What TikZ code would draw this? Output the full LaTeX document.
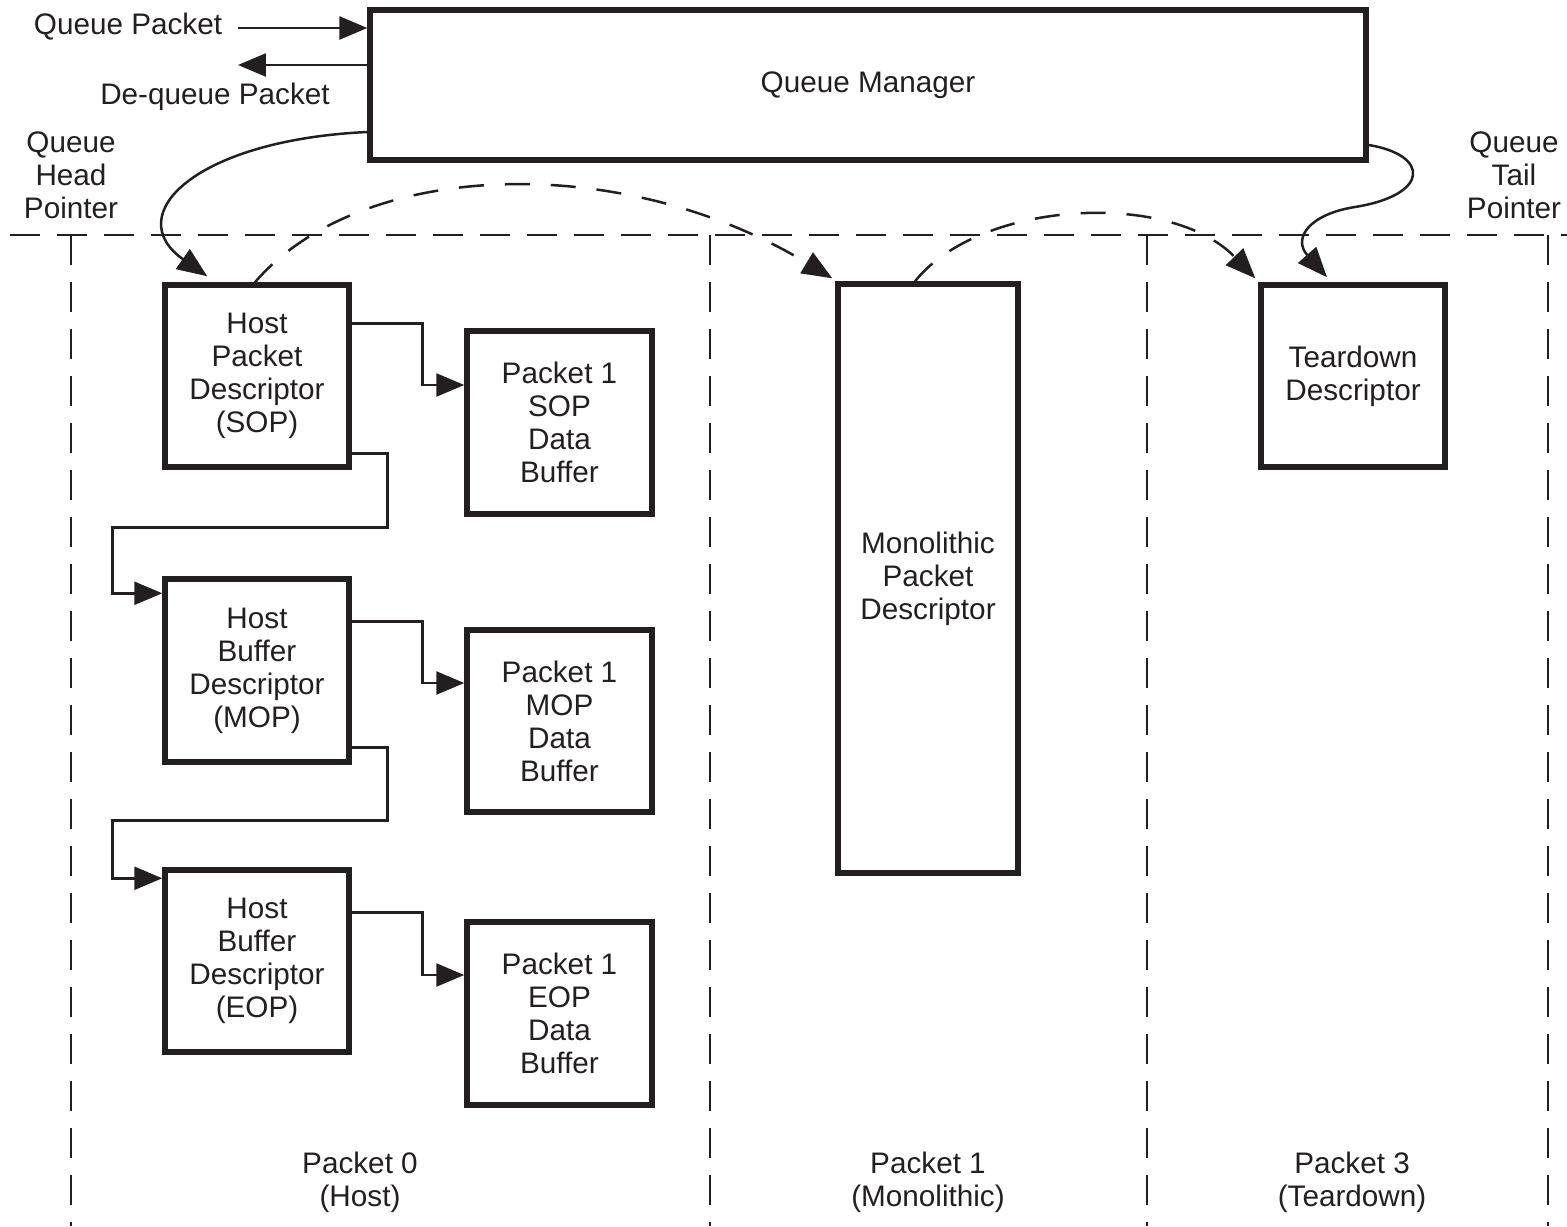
\documentclass[tikz,border=0pt]{standalone}
\usepackage{fontspec}
\setmainfont{Liberation Sans}
\usetikzlibrary{arrows.meta,calc}
\definecolor{ink}{HTML}{231F20}
\begin{document}
\begin{tikzpicture}[x=0.02cm,y=-0.02cm,
  txt/.style={font=\fontsize{16.9}{18.8}\selectfont, align=center, text=ink, inner sep=0pt},
  box/.style={draw=ink, line width=0.11cm, rectangle, txt},
  link/.style={draw=ink, line width=0.05cm, -{Triangle[length=0.56cm,width=0.46cm]}},
  curve/.style={draw=ink, line width=0.05cm, -{Triangle[length=0.6cm,width=0.48cm]}},
  dcurve/.style={curve, dash pattern=on 0.5cm off 0.42cm},
  divider/.style={draw=ink, line width=0.032cm, dash pattern=on 0.6cm off 0.34cm}]
\useasboundingbox (0,0) rectangle (1567,1226);

% queue region dividers
\draw[divider] (10,235) -- (1567,235);
\foreach \x in {71,710,1147,1548}
  \draw[divider] (\x,235) -- (\x,1226);

% queue manager
\node[box, minimum width=19.92cm, minimum height=3.0cm] (qm) at (868,85) {Queue Manager};

% side labels
\node[txt] (qpkt) at (128,27) {Queue Packet};
\node[txt] (dqpkt) at (215,97) {De-queue Packet};
\node[txt] (qhp) at (71,175) {Queue\\Head\\Pointer};
\node[txt] (qtp) at (1514,175) {Queue\\Tail\\Pointer};

% packet 0 (host)
\node[box, minimum width=3.68cm, minimum height=3.64cm] (sop) at (257,376) {Host\\Packet\\Descriptor\\(SOP)};
\node[box, minimum width=3.7cm, minimum height=3.66cm] (sb) at (559.5,422.5) {Packet 1\\SOP\\Data\\Buffer};
\node[box, minimum width=3.68cm, minimum height=3.66cm] (mop) at (257,670.5) {Host\\Buffer\\Descriptor\\(MOP)};
\node[box, minimum width=3.7cm, minimum height=3.64cm] (mb) at (559.5,721) {Packet 1\\MOP\\Data\\Buffer};
\node[box, minimum width=3.68cm, minimum height=3.64cm] (eop) at (257,961) {Host\\Buffer\\Descriptor\\(EOP)};
\node[box, minimum width=3.7cm, minimum height=3.66cm] (eb) at (559.5,1013.5) {Packet 1\\EOP\\Data\\Buffer};

% packet 1 (monolithic) and packet 3 (teardown)
\node[box, minimum width=3.6cm, minimum height=11.78cm] (mono) at (928,578.5) {Monolithic\\Packet\\Descriptor};
\node[box, minimum width=3.68cm, minimum height=3.64cm] (td) at (1353,376) {Teardown\\Descriptor};

% column captions
\node[txt] (lbl0) at (360,1182.5) {Packet 0\\(Host)};
\node[txt] (lbl1) at (928,1182.5) {Packet 1\\(Monolithic)};
\node[txt] (lbl3) at (1352,1182.5) {Packet 3\\(Teardown)};

% enqueue / dequeue
\coordinate (qin) at (238,28);
\coordinate (qout) at (238,65);
\draw[link] (qin) -- (qin -| qm.west);
\draw[link] (qout -| qm.west) -- (qout);

% descriptor to buffer links
\draw[link] ($(sop.north east)+(0,41)$) -- ++(71,0) |- ($(sb.west)+(0,-37.5)$);
\draw[link] ($(mop.north east)+(0,45)$) -- ++(71,0) |- ($(mb.west)+(0,-38)$);
\draw[link] ($(eop.north east)+(0,45)$) -- ++(71,0) |- ($(eb.west)+(0,-38.5)$);

% descriptor chain
\draw[link] ($(sop.south east)+(0,-16)$) -- ++(36,0) -- ++(0,74) -- ++(-275,0) |- ($(mop.north west)+(0,17)$);
\draw[link] ($(mop.south east)+(0,-17)$) -- ++(36,0) -- ++(0,73) -- ++(-275,0) |- ($(eop.north west)+(0,11)$);

% head and tail pointers
\draw[curve] ($(qm.west)+(0,47)$) .. controls (195,140) and (120,215) .. ($(sop.north west)+(45,-6)$);
\draw[curve] ($(qm.east)+(0,60)$) .. controls (1430,155) and (1430,195) .. (1355,207)
  .. controls (1310,214) and (1292,238) .. ($(td.north)+(-26,-5)$);

% next-packet links
\draw[dcurve] ($(sop.north)+(-2,0)$) .. controls (360,160) and (620,150) .. ($(mono.north west)+(-3,-3)$);
\draw[dcurve] ($(mono.north)+(-13,0)$) .. controls (980,200) and (1170,190) .. ($(td.north west)+(-3,-4)$);
\end{tikzpicture}
\end{document}
